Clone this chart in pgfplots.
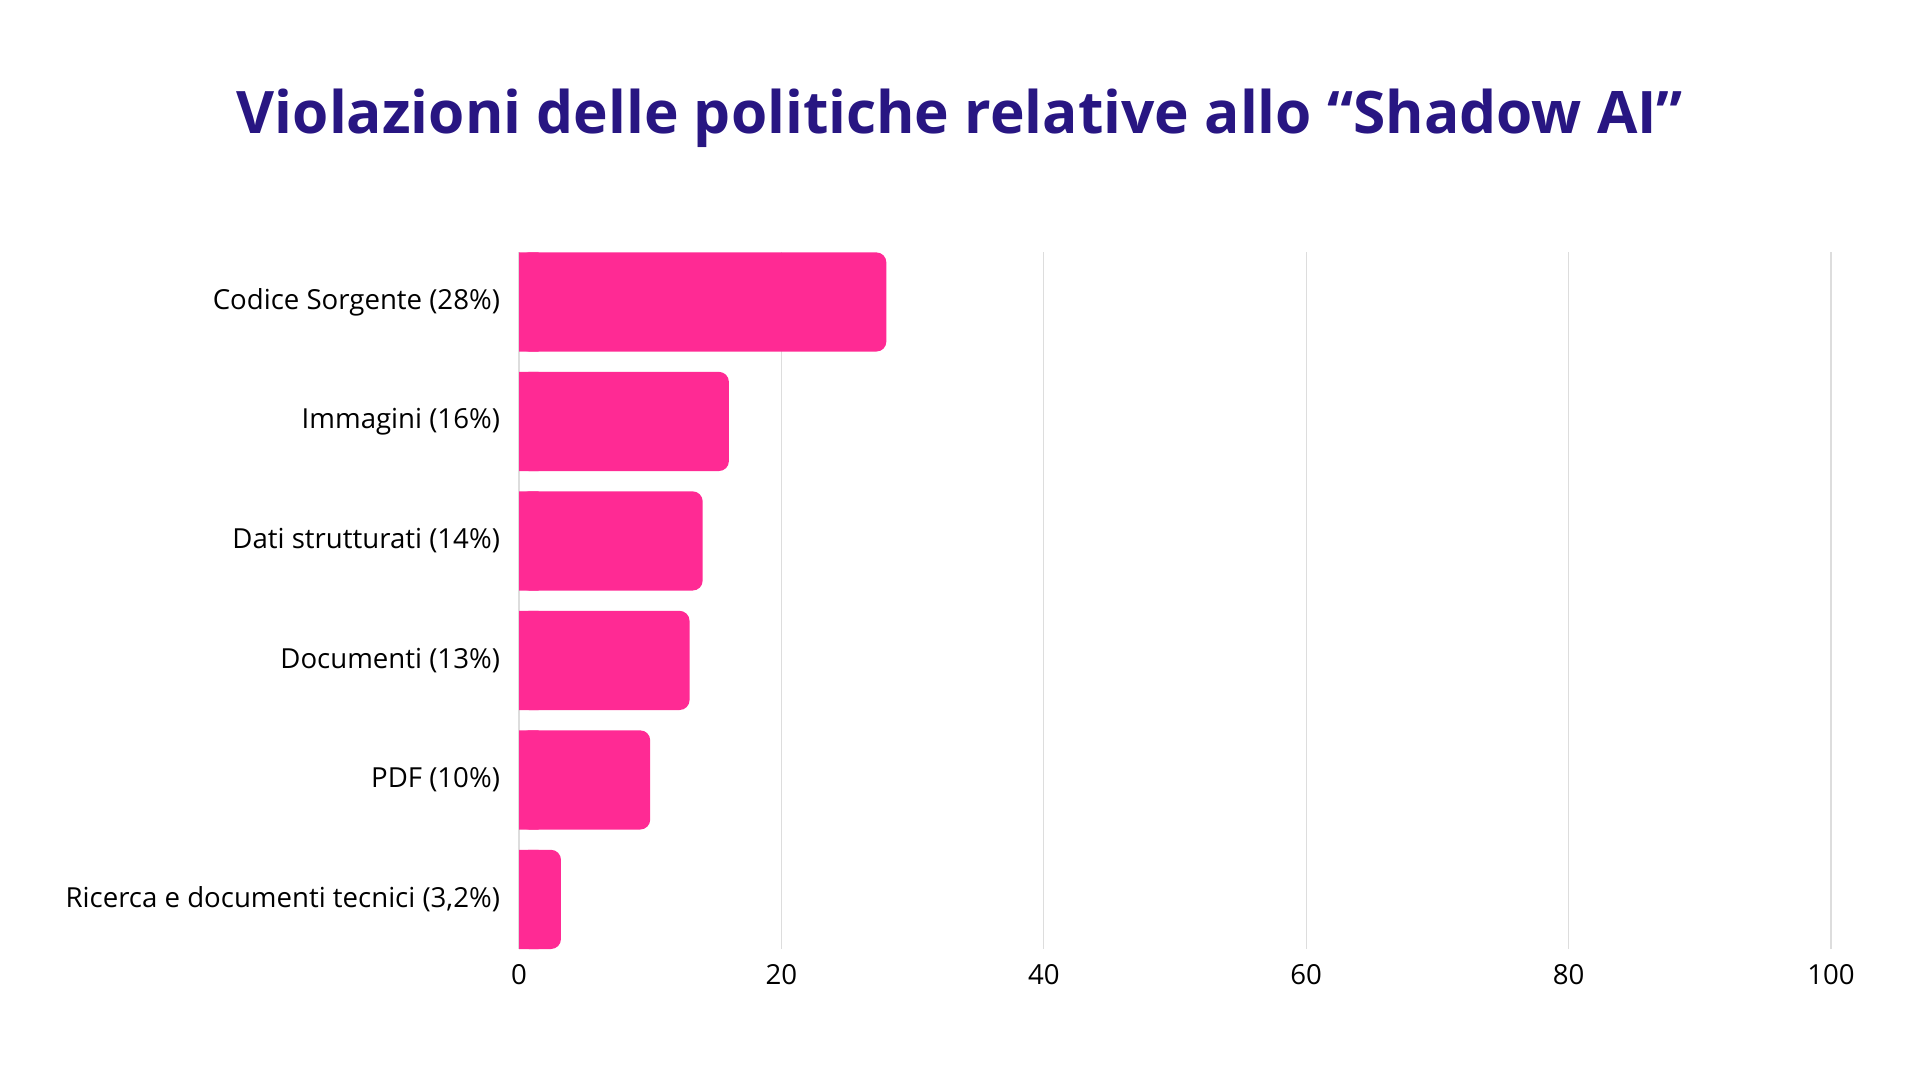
\documentclass[border=0pt]{standalone}
\usepackage{fontspec}
\setmainfont{Open Sans}
\usepackage{pgfplots}
\usepackage{pgfplotstable}
\pgfplotsset{compat=1.18}

\definecolor{titleblue}{HTML}{281682}
\definecolor{barpink}{HTML}{FF2A94}
\definecolor{gridgray}{HTML}{DDDDDD}

% quota di violazioni per tipo di dato (%)
\pgfplotstableread{
val idx
28  0
16  1
14  2
13  3
10  4
3.2 5
}\violazioni

\begin{document}
\begin{tikzpicture}
\fill[white] (0,0) rectangle (960pt,540pt);
\path[use as bounding box] (0,0) rectangle (960pt,540pt);

\node[anchor=base, text=titleblue, font=\fontsize{29.3}{35}\selectfont\bfseries]
  at (480pt,473.3pt) {Violazioni delle politiche relative allo “Shadow AI”};

\begin{axis}[
  at={(259.5pt,65.5pt)}, anchor=south west,
  scale only axis, width=656pt, height=348.3pt,
  xmin=0, xmax=100, ymin=-0.415, ymax=5.415,
  y dir=reverse,
  xtick={0,20,...,100},
  ytick={0,...,5},
  yticklabels={Codice Sorgente (28\%), Immagini (16\%), Dati strutturati (14\%),
    Documenti (13\%), PDF (10\%), {Ricerca e documenti tecnici (3,2\%)}},
  xmajorgrids, ymajorgrids=false,
  grid style={draw=gridgray, line width=0.6pt},
  axis line style={draw=none},
  major tick length=0pt,
  tick label style={font=\fontsize{13.8}{16}\selectfont, text=black},
  /pgf/number format/assume math mode=true,
  xticklabel style={yshift=-4pt},
  yticklabel style={xshift=-6pt},
  xbar, bar width=0.83, bar shift=0pt,
  clip=false,
]
% squared-off left end of the bars (drawn first, under the rounded bars)
\addplot[fill=barpink, draw=none, x filter/.expression={min(x,1.5)}] table[x=val, y=idx] {\violazioni};
\addplot[fill=barpink, draw=none, rounded corners=5pt] table[x=val, y=idx] {\violazioni};
\end{axis}
\end{tikzpicture}
\end{document}
